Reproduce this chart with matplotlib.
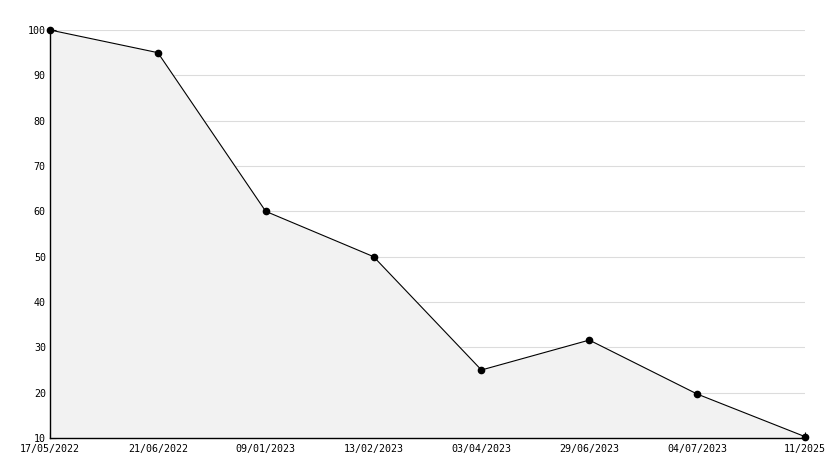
import numpy as np
import matplotlib.pyplot as plt
from matplotlib.ticker import MultipleLocator

# dates shown under each point (evenly spaced categories)
dates = ['17/05/2022', '21/06/2022', '09/01/2023', '13/02/2023',
         '03/04/2023', '29/06/2023', '04/07/2023', '11/2025']
values = [100, 95, 60, 50, 25, 31.6, 19.7, 10.3]

plt.rcParams['font.family'] = 'DejaVu Sans Mono'
plt.rcParams['font.size'] = 7.2

fig = plt.figure(figsize=(8.34, 4.68), dpi=100)
ax = fig.add_axes([50 / 834, 30 / 468, 755 / 834, 408 / 468])

x = np.arange(len(dates))

# light grey area under the line
ax.fill_between(x, values, 10, color='#f2f2f2', zorder=1, linewidth=0)
ax.plot(x, values, color='black', linewidth=0.8, marker='o',
        markersize=4.5, zorder=3, clip_on=False)

ax.set_xlim(0, len(dates) - 1)
ax.set_ylim(10, 100)
ax.set_xticks(x)
ax.set_xticklabels(dates)
ax.yaxis.set_major_locator(MultipleLocator(10))
ax.yaxis.set_minor_locator(MultipleLocator(5))

ax.set_axisbelow(True)
ax.grid(axis='y', color='#dcdcdc', linewidth=0.8)

for side in ['top', 'right']:
    ax.spines[side].set_visible(False)
for side in ['left', 'bottom']:
    ax.spines[side].set_linewidth(1.0)

ax.tick_params(axis='both', which='both', direction='in', length=4,
               width=0.8, colors='black', pad=3)
ax.tick_params(axis='x', pad=4)

fig.savefig('out.png', dpi=100)
